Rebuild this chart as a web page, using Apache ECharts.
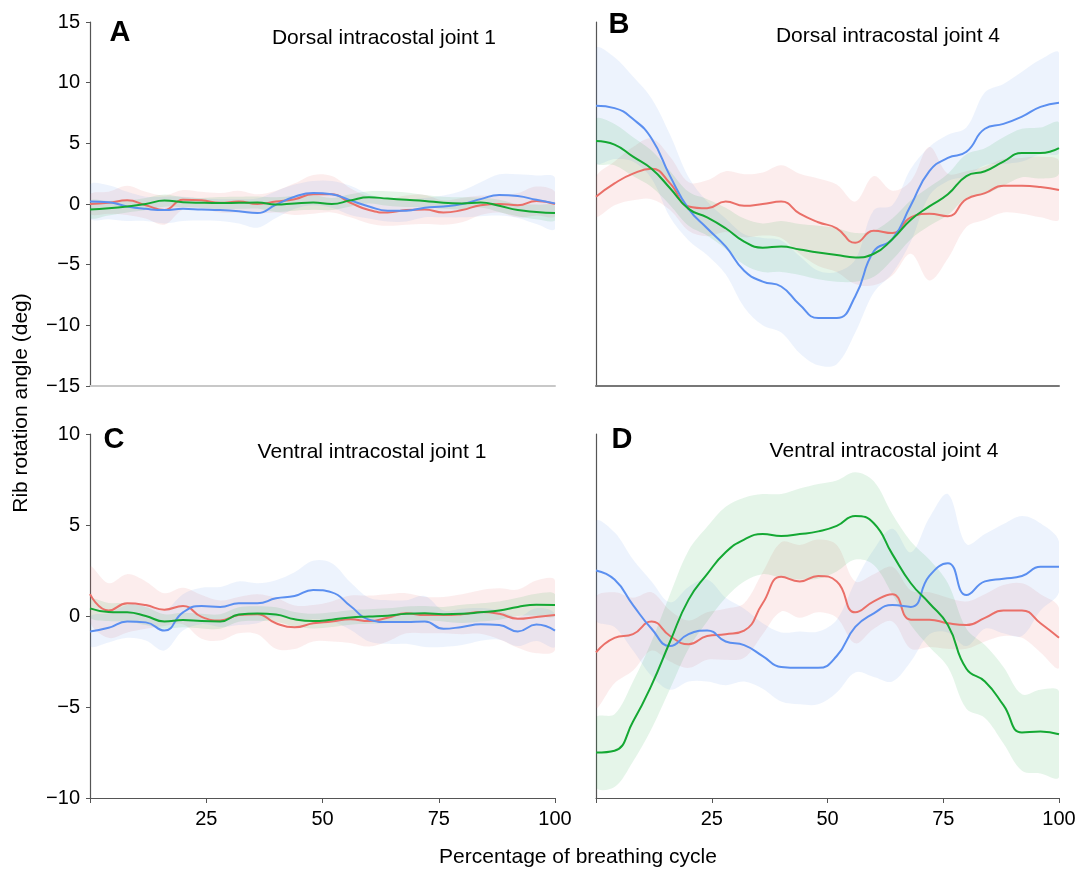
<!DOCTYPE html>
<html>
<head>
<meta charset="utf-8">
<script src="https://cdn.jsdelivr.net/npm/echarts@6/dist/echarts.min.js"></script>
<style>
  html, body { margin: 0; padding: 0; background: #fff; }
  #main { width: 1081px; height: 869px; }
</style>
</head>
<body>
<div id="main"></div>
<script>
// percentage of breathing cycle (shared by every panel)
const X = [0, 4, 8, 12, 16, 20, 24, 28, 32, 36, 40, 44, 48, 52, 56, 60, 64, 68, 72, 76, 80, 84, 88, 92, 96, 100];

// A - Dorsal intracostal joint 1 (mean and sd, deg)
const aRed     = [0, 0.1, 0.3, -0.1, -0.5, 0.35, 0.3, 0.1, 0.2, 0.0, 0.2, 0.4, 0.8, 0.8, 0.1, -0.5, -0.7, -0.5, -0.45, -0.7, -0.5, -0.1, 0.0, -0.1, 0.25, 0.0];
const aRedSd   = [0.8, 0.9, 1.2, 1.1, 1.2, 0.8, 0.7, 0.8, 0.9, 0.8, 0.9, 1.3, 1.6, 1.5, 1.2, 1.1, 1.1, 1.2, 1.2, 1.0, 1.0, 0.8, 0.7, 1.0, 1.2, 1.0];
const aBlue    = [0.2, 0.15, -0.2, -0.4, -0.5, -0.4, -0.45, -0.5, -0.6, -0.75, -0.05, 0.6, 0.9, 0.8, 0.3, -0.2, -0.55, -0.55, -0.3, -0.2, 0.0, 0.4, 0.75, 0.65, 0.35, 0.05];
const aBlueSd  = [1.4, 1.4, 1.2, 1.0, 1.1, 1.0, 0.9, 0.9, 1.0, 1.2, 1.1, 1.0, 1.0, 1.1, 1.2, 1.0, 0.9, 0.9, 0.8, 0.9, 1.1, 1.4, 1.7, 1.8, 2.0, 2.1];
const aGreen   = [-0.45, -0.35, -0.2, 0.0, 0.28, 0.15, 0.1, 0.08, 0.1, 0.12, -0.05, 0.05, 0.12, 0.0, 0.3, 0.55, 0.45, 0.35, 0.25, 0.1, 0.05, 0.12, -0.15, -0.5, -0.65, -0.75];
const aGreenSd = [0.7, 0.6, 0.5, 0.5, 0.5, 0.4, 0.4, 0.5, 0.5, 0.5, 0.6, 0.6, 0.6, 0.5, 0.5, 0.5, 0.6, 0.6, 0.5, 0.5, 0.5, 0.4, 0.5, 0.5, 0.6, 0.6];

// B - Dorsal intracostal joint 4
const bRed     = [0.6, 1.7, 2.5, 2.9, 1.7, -0.2, -0.35, 0.2, -0.15, 0.0, 0.2, -0.8, -1.5, -2.0, -3.2, -2.2, -2.4, -1.1, -0.8, -1.0, 0.4, 0.9, 1.5, 1.5, 1.4, 1.15];
const bRedSd   = [1.6, 1.8, 2.2, 2.5, 2.2, 2.0, 2.3, 2.5, 2.6, 2.6, 3.0, 3.3, 3.6, 3.6, 3.4, 4.5, 3.5, 3.0, 5.5, 3.5, 2.3, 2.2, 2.2, 2.3, 2.5, 2.4];
const bBlue    = [8.1, 7.9, 7.0, 5.4, 2.3, -0.4, -2.0, -3.5, -5.5, -6.4, -6.8, -8.3, -9.4, -9.4, -7.6, -3.9, -2.9, -0.1, 2.7, 3.8, 4.3, 6.2, 6.6, 7.2, 8.0, 8.35];
const bBlueSd  = [4.7, 4.2, 3.5, 3.3, 3.4, 2.6, 2.2, 2.3, 3.0, 3.6, 3.8, 4.0, 3.9, 3.8, 3.0, 3.4, 2.8, 3.0, 2.0, 1.9, 2.0, 3.0, 3.3, 3.7, 3.9, 4.1];
const bGreen   = [5.2, 4.9, 3.9, 2.9, 1.3, -0.4, -1.1, -2.0, -3.1, -3.6, -3.5, -3.75, -4.0, -4.2, -4.4, -4.1, -2.9, -1.3, -0.2, 0.8, 2.3, 2.7, 3.5, 4.2, 4.2, 4.6];
const bGreenSd = [1.8, 1.7, 1.6, 1.5, 1.4, 1.4, 1.5, 1.7, 1.9, 2.0, 2.1, 2.1, 2.2, 2.2, 2.0, 1.9, 1.7, 1.6, 1.6, 1.7, 1.8, 1.9, 2.0, 2.0, 2.1, 2.1];

// C - Ventral intracostal joint 1
const cRed     = [1.2, 0.3, 0.7, 0.6, 0.35, 0.55, -0.05, -0.25, 0.05, 0.1, -0.4, -0.62, -0.4, -0.3, -0.18, -0.28, -0.1, 0.15, 0.05, 0.05, 0.1, 0.22, 0.12, -0.15, -0.05, 0.05];
const cRedSd   = [1.5, 1.5, 1.6, 1.3, 0.9, 1.0, 1.2, 1.1, 1.0, 1.1, 1.4, 1.2, 1.0, 1.1, 1.3, 1.4, 1.3, 1.1, 1.0, 1.0, 1.1, 1.2, 1.4, 1.6, 2.0, 1.9];
const cBlue    = [-0.85, -0.65, -0.3, -0.35, -0.8, 0.2, 0.55, 0.5, 0.7, 0.7, 0.97, 1.1, 1.43, 1.3, 0.55, -0.2, -0.33, -0.33, -0.3, -0.7, -0.6, -0.46, -0.5, -0.85, -0.47, -0.8];
const cBlueSd  = [0.8, 0.8, 0.9, 1.0, 1.1, 1.0, 1.0, 1.1, 1.2, 1.1, 1.0, 1.3, 1.6, 1.6, 1.3, 1.2, 1.2, 1.2, 1.4, 1.0, 1.0, 0.9, 0.8, 0.8, 0.9, 0.9];
const cGreen   = [0.42, 0.22, 0.2, 0.0, -0.3, -0.22, -0.28, -0.3, 0.08, 0.14, 0.08, -0.18, -0.28, -0.2, -0.08, -0.03, 0.02, 0.12, 0.15, 0.1, 0.12, 0.2, 0.3, 0.5, 0.62, 0.6];
const cGreenSd = [0.5, 0.5, 0.5, 0.5, 0.4, 0.4, 0.4, 0.4, 0.4, 0.4, 0.4, 0.4, 0.4, 0.4, 0.4, 0.4, 0.4, 0.4, 0.4, 0.4, 0.5, 0.5, 0.5, 0.5, 0.6, 0.6];

// D - Ventral intracostal joint 4
const dRed     = [-2.0, -1.2, -1.0, -0.3, -1.1, -1.55, -1.1, -1.0, -0.8, 0.7, 2.15, 1.9, 2.2, 1.9, 0.2, 0.8, 1.2, -0.2, -0.2, -0.4, -0.5, -0.1, 0.3, 0.3, -0.4, -1.2];
const dRedSd   = [3.0, 2.5, 2.0, 1.6, 1.4, 1.3, 1.3, 1.4, 1.5, 1.7, 1.9, 2.0, 2.0, 2.0, 1.7, 1.5, 1.5, 1.6, 1.5, 1.4, 1.3, 1.3, 1.4, 1.5, 1.6, 1.65];
const dBlue    = [2.5, 2.0, 0.6, -0.7, -1.65, -1.0, -0.8, -1.4, -1.6, -2.2, -2.8, -2.85, -2.85, -2.2, -0.6, 0.15, 0.6, 0.5, 2.2, 2.9, 1.15, 1.9, 2.05, 2.2, 2.7, 2.7];
const dBlueSd  = [2.7, 2.6, 2.5, 2.6, 2.4, 2.6, 2.8, 2.4, 2.0, 1.8, 1.9, 2.0, 2.0, 2.0, 2.5, 3.5, 4.2, 3.0, 3.2, 3.8, 2.8, 2.6, 3.0, 3.3, 2.4, 1.4];
const dGreen   = [-7.5, -7.4, -5.8, -3.8, -1.4, 0.9, 2.3, 3.5, 4.2, 4.5, 4.4, 4.5, 4.65, 4.95, 5.5, 5.1, 3.4, 1.8, 0.7, -0.5, -2.9, -3.6, -4.9, -6.4, -6.35, -6.5];
const dGreenSd = [1.9, 2.0, 2.2, 2.4, 2.6, 2.7, 2.6, 2.5, 2.3, 2.2, 2.3, 2.5, 2.6, 2.5, 2.4, 2.3, 2.2, 2.3, 2.4, 2.3, 2.2, 2.0, 2.1, 2.1, 2.3, 2.35];

const letters = ['A', 'B', 'C', 'D'];
const titles = ['Dorsal intracostal joint 1', 'Dorsal intracostal joint 4',
                'Ventral intracostal joint 1', 'Ventral intracostal joint 4'];

const RED = '#EA6F68', BLUE = '#5B8FF0', GREEN = '#14A833';
const FONT = 'Liberation Sans, Arial, sans-serif';

const panels = [
  [[aRed, aRedSd], [aBlue, aBlueSd], [aGreen, aGreenSd]],
  [[bRed, bRedSd], [bBlue, bBlueSd], [bGreen, bGreenSd]],
  [[cRed, cRedSd], [cBlue, cBlueSd], [cGreen, cGreenSd]],
  [[dRed, dRedSd], [dBlue, dBlueSd], [dGreen, dGreenSd]]
];
const colors = [RED, BLUE, GREEN];
const bandColors = ['rgba(234,111,104,0.12)', 'rgba(91,143,240,0.11)', 'rgba(20,168,51,0.11)'];

const chart = echarts.init(document.getElementById('main'), null, { renderer: 'canvas' });

const grids = [
  { left: 90, top: 22, width: 465, height: 364 },
  { left: 596, top: 22, width: 463, height: 364 },
  { left: 90, top: 434, width: 465, height: 364 },
  { left: 596, top: 434, width: 463, height: 364 }
].map(g => Object.assign({ outerBoundsMode: 'none', containLabel: false }, g));

const minus = v => String(v).replace('-', '\u2212');

const xAxes = grids.map((g, i) => {
  const bottom = i >= 2;
  return {
    type: 'value', gridIndex: i, min: 0, max: 100, interval: 25,
    splitLine: { show: false },
    axisLine: { show: true, onZero: false, lineStyle: {
      color: i === 0 ? '#c8c8c8' : (i === 1 ? '#777' : '#555'),
      width: i < 2 ? 2 : 1.2 } },
    axisTick: { show: bottom, length: 5, lineStyle: { color: '#555' } },
    axisLabel: { show: bottom, margin: 11, color: '#000', fontSize: 20, fontFamily: FONT,
      formatter: v => (v === 0 ? '' : v) }
  };
});

const yAxes = grids.map((g, i) => {
  const left = i % 2 === 0;
  const top = i < 2;
  return {
    type: 'value', gridIndex: i,
    min: top ? -15 : -10, max: top ? 15 : 10, interval: 5,
    splitLine: { show: false },
    axisLine: { show: true, onZero: false, lineStyle: { color: '#555', width: 1.2 } },
    axisTick: { show: left, length: 4, lineStyle: { color: '#555' } },
    axisLabel: { show: left, margin: 10, color: '#000', fontSize: 20, fontFamily: FONT,
      formatter: minus }
  };
});

// mean +/- sd band drawn as one polygon through the axis scales
function bandRenderer(mean, sd, fill) {
  return function (params, api) {
    if (params.dataIndex !== 0) return;
    const upper = X.map((x, j) => api.coord([x, mean[j] + sd[j]]));
    const lower = X.map((x, j) => api.coord([x, mean[j] - sd[j]])).reverse();
    return {
      type: 'polygon',
      shape: { points: upper.concat(lower), smooth: 0.35 },
      style: { fill: fill, stroke: null }
    };
  };
}

const series = [];
panels.forEach((groups, p) => {
  groups.forEach(([mean, sd], k) => {
    series.push({
      type: 'custom', xAxisIndex: p, yAxisIndex: p, silent: true, clip: true, z: 1,
      data: X.map((x, j) => [x, mean[j] - sd[j], mean[j] + sd[j]]),
      encode: { x: 0, y: [1, 2] },
      renderItem: bandRenderer(mean, sd, bandColors[k])
    });
  });
  groups.forEach(([mean], k) => {
    series.push({
      type: 'line', xAxisIndex: p, yAxisIndex: p, z: 3,
      data: X.map((x, j) => [x, mean[j]]),
      smooth: 0.5, symbol: 'none', silent: true,
      lineStyle: { color: colors[k], width: 2 }
    });
  });
});

const letterPos = [[120, 33], [619, 25], [114, 440], [622, 440]];
const titlePos = [[384, 38], [888, 36], [372, 452], [884, 451]];

const graphic = [];
letters.forEach((t, i) => {
  graphic.push({ type: 'text', x: letterPos[i][0], y: letterPos[i][1],
    style: { text: t, font: 'bold 29px ' + FONT, fill: '#000', align: 'center', verticalAlign: 'middle' } });
  graphic.push({ type: 'text', x: titlePos[i][0], y: titlePos[i][1],
    style: { text: titles[i], font: '21px ' + FONT, fill: '#000', align: 'center', verticalAlign: 'middle' } });
});
graphic.push({ type: 'text', x: 21, y: 403, rotation: Math.PI / 2,
  style: { text: 'Rib rotation angle (deg)', font: '21px ' + FONT, fill: '#000', align: 'center', verticalAlign: 'middle' } });
graphic.push({ type: 'text', x: 578, y: 857,
  style: { text: 'Percentage of breathing cycle', font: '21px ' + FONT, fill: '#000', align: 'center', verticalAlign: 'middle' } });

chart.setOption({
  backgroundColor: '#fff',
  animation: false,
  grid: grids,
  xAxis: xAxes,
  yAxis: yAxes,
  series: series,
  graphic: graphic
});
</script>
</body>
</html>
